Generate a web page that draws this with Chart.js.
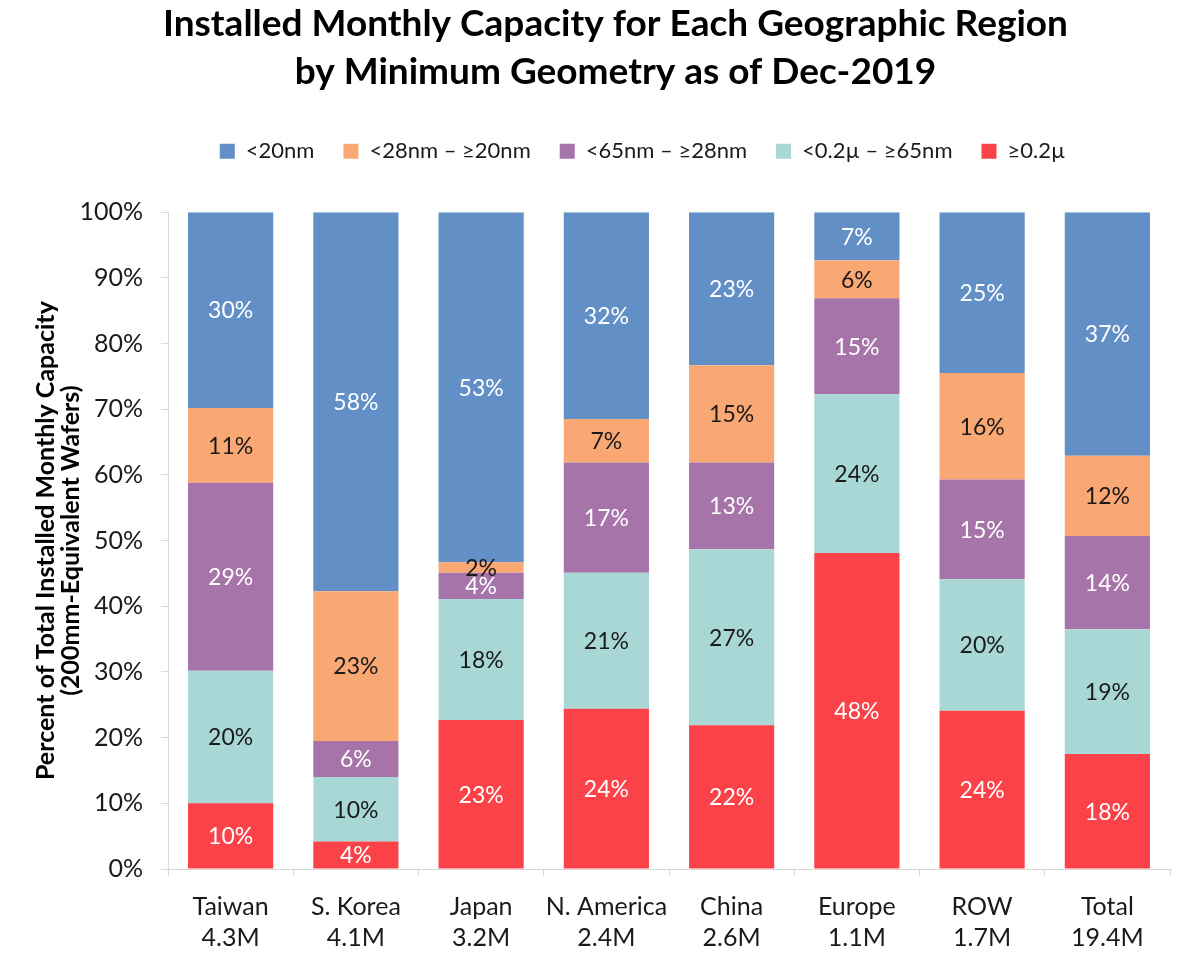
<!DOCTYPE html>
<html>
<head>
<meta charset="utf-8">
<script src="https://cdn.jsdelivr.net/npm/chart.js@4.4.1/dist/chart.umd.min.js"></script>
<style>
  html, body { margin: 0; padding: 0; background: #fff; }
  #chart { display: block; }
</style>
</head>
<body>
<canvas id="chart" width="1200" height="962"></canvas>
<script>
const regions = ['Taiwan', 'S. Korea', 'Japan', 'N. America', 'China', 'Europe', 'ROW', 'Total'];
const capacities = ['4.3M', '4.1M', '3.2M', '2.4M', '2.6M', '1.1M', '1.7M', '19.4M'];

// percent of capacity per geometry, bottom of stack first
const ge02u = [10.0, 4.2, 22.7, 24.4, 21.9, 48.1, 24.1, 17.5];
const lt02u = [20.2, 9.8, 18.4, 20.7, 26.8, 24.2, 20.0, 19.0];
const lt65nm = [28.6, 5.5, 4.0, 16.8, 13.2, 14.6, 15.2, 14.2];
const lt28nm = [11.4, 22.8, 1.6, 6.6, 14.8, 5.8, 16.2, 12.2];
const lt20nm = [29.8, 57.7, 53.3, 31.5, 23.3, 7.3, 24.5, 37.1];

const yTicks = [0, 10, 20, 30, 40, 50, 60, 70, 80, 90, 100];

const FONT = 'Lato, "Open Sans", sans-serif';

const segmentLabels = {
    id: 'segmentLabels',
    afterDatasetsDraw(chart) {
        const ctx = chart.ctx;
        ctx.save();
        ctx.font = '23px ' + FONT;
        ctx.textAlign = 'center';
        ctx.textBaseline = 'middle';
        chart.data.datasets.forEach((ds, i) => {
            const meta = chart.getDatasetMeta(i);
            if (meta.hidden) return;
            meta.data.forEach((bar, j) => {
                const v = ds.data[j];
                const y = (bar.y + bar.base) / 2;
                ctx.fillStyle = ds.labelColor;
                ctx.fillText(Math.round(v) + '%', bar.x, y + 1);
            });
        });
        ctx.restore();
    }
};

// extra room under the legend, and nudge title/legend to the right
const legendGap = {
    id: 'legendGap',
    beforeInit(chart) {
        const fit = chart.legend.fit;
        chart.legend.fit = function() {
            fit.bind(chart.legend)();
            this.height += 40;
        };
    },
    afterLayout(chart) {
        chart.legend.left += 82;
        chart.titleBlock.left += 28;
    }
};

function makeDataset(label, data, color, labelColor) {
    return {
        label: label,
        data: data,
        backgroundColor: color,
        borderWidth: 0,
        labelColor: labelColor,
        barPercentage: 0.68,
        categoryPercentage: 1.0
    };
}

const ctx = document.getElementById('chart').getContext('2d');
const chart = new Chart(ctx, {
    type: 'bar',
    data: {
        labels: regions.map((r, i) => [r, capacities[i]]),
        datasets: [
            makeDataset('\u22650.2\u00b5', ge02u, '#FB4249', '#ffffff'),
            makeDataset('<0.2\u00b5 \u2013 \u226565nm', lt02u, '#A9D7D5', '#1a1a1a'),
            makeDataset('<65nm \u2013 \u226528nm', lt65nm, '#A674A8', '#ffffff'),
            makeDataset('<28nm \u2013 \u226520nm', lt28nm, '#F9A873', '#1a1a1a'),
            makeDataset('<20nm', lt20nm, '#618FC6', '#ffffff')
        ]
    },
    options: {
        responsive: false,
        animation: false,
        devicePixelRatio: 1,
        layout: { padding: { left: 33, right: 30, top: 0, bottom: 0 } },
        plugins: {
            title: {
                display: true,
                text: ['Installed Monthly Capacity for Each Geographic Region', 'by Minimum Geometry as of Dec-2019'],
                color: '#000',
                font: { family: FONT, size: 37, weight: 'bold', lineHeight: 1.3 },
                padding: { top: 0, bottom: 15 }
            },
            legend: {
                display: true,
                reverse: true,
                labels: {
                    color: '#1a1a1a',
                    font: { family: FONT, size: 22 },
                    boxWidth: 15,
                    boxHeight: 15,
                    padding: 29
                }
            },
            tooltip: { enabled: false }
        },
        scales: {
            x: {
                stacked: true,
                afterFit(scale) { scale.height = 93; },
                grid: {
                    display: true,
                    drawOnChartArea: false,
                    drawTicks: true,
                    tickLength: 7,
                    color: '#d9d9d9',
                    offset: true
                },
                border: { display: true, color: '#d9d9d9' },
                ticks: {
                    color: '#1a1a1a',
                    font: { family: FONT, size: 25, lineHeight: 1.25 },
                    padding: 15,
                    maxRotation: 0
                }
            },
            y: {
                stacked: true,
                min: 0,
                max: 100,
                afterFit(scale) { scale.width = 135; },
                afterBuildTicks(axis) {
                    axis.ticks = yTicks.map(v => ({ value: v }));
                },
                grid: {
                    display: true,
                    drawOnChartArea: false,
                    drawTicks: true,
                    tickLength: 7,
                    color: '#d9d9d9'
                },
                border: { display: true, color: '#d9d9d9' },
                ticks: {
                    color: '#1a1a1a',
                    font: { family: FONT, size: 25 },
                    padding: 18,
                    callback: v => v + '%'
                },
                title: {
                    display: true,
                    text: ['Percent of Total Installed Monthly Capacity', '(200mm-Equivalent Wafers)'],
                    color: '#000',
                    font: { family: FONT, size: 25, weight: 'bold', lineHeight: 1.0 },
                    padding: { top: 0, bottom: 4 }
                }
            }
        }
    },
    plugins: [segmentLabels, legendGap]
});
</script>
</body>
</html>
